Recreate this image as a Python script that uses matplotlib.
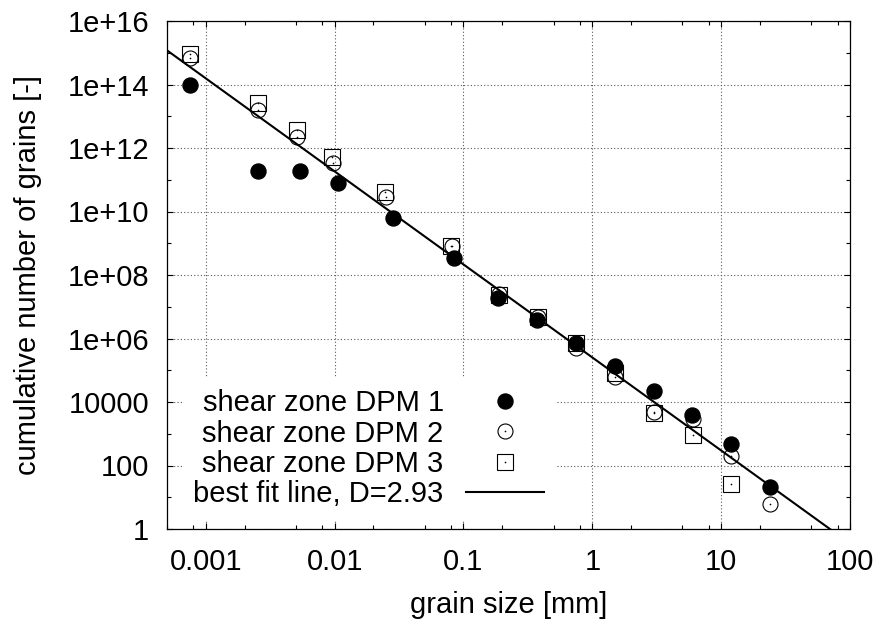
import numpy as np
import matplotlib
matplotlib.use("Agg")
import matplotlib.pyplot as plt
from matplotlib.ticker import FixedLocator, FixedFormatter, NullFormatter

plt.rcParams['font.family'] = ['Liberation Sans', 'DejaVu Sans']

# grain size [mm] and cumulative number of grains for each shear zone
size_dpm1 = [0.00075, 0.00254, 0.00536, 0.0106, 0.0286, 0.0841, 0.187, 0.372,
             0.748, 1.50, 2.99, 5.93, 11.9, 23.9]
count_dpm1 = [9.5e13, 1.9e11, 1.9e11, 7.8e10, 6.2e9, 3.4e8, 1.9e7, 3.8e6,
              7.1e5, 1.4e5, 2.3e4, 3.9e3, 470, 21]

size_dpm2 = [0.00075, 0.00252, 0.00514, 0.0098, 0.0252, 0.081, 0.19, 0.377,
             0.748, 1.50, 2.99, 6.0, 11.9, 23.9]
count_dpm2 = [6.7e14, 1.6e13, 2.3e12, 3.4e11, 2.9e10, 8.4e8, 2.5e7, 4.9e6,
              5.1e5, 6.0e4, 4.7e3, 2.9e3, 200, 6.1]

size_dpm3 = [0.00076, 0.00252, 0.00512, 0.0096, 0.0245, 0.080, 0.19, 0.377,
             0.748, 1.50, 2.99, 6.0, 12.0]
count_dpm3 = [8.9e14, 2.6e13, 3.7e12, 5.3e11, 4.2e10, 8.2e8, 2.3e7, 4.9e6,
              7.1e5, 8.0e4, 4.4e3, 910, 27]

# best fit power law N = C * d^-D
fit_D = 2.93
fit_C = 2.53e5
fit_range = [0.0005, 100]

ytick_vals = [1, 1e2, 1e4, 1e6, 1e8, 1e10, 1e12, 1e14, 1e16]
ytick_labels = ["1", "100", "10000", "1e+06", "1e+08", "1e+10", "1e+12", "1e+14", "1e+16"]
xtick_vals = [0.001, 0.01, 0.1, 1, 10, 100]
xtick_labels = ["0.001", "0.01", "0.1", "1", "10", "100"]

fs = 21

fig = plt.figure(figsize=(8.81, 6.23), dpi=100)
ax = fig.add_axes([167/881, 1-529/623, 683/881, 508/623])

ax.set_xscale("log")
ax.set_yscale("log")
ax.set_xlim(0.0005, 100)
ax.set_ylim(1, 1e16)

ms_c = 10.8
ms_s = 11.5
h1, = ax.plot(size_dpm1, count_dpm1, "o", color="black", ms=ms_c, zorder=3)
h2, = ax.plot(size_dpm2, count_dpm2, "o", mfc="none", mec="black", mew=0.8, ms=ms_c, zorder=3)
d2, = ax.plot(size_dpm2, count_dpm2, "o", color="black", ms=1.2, mew=0, zorder=3)
h3, = ax.plot(size_dpm3, count_dpm3, "s", mfc="none", mec="black", mew=0.8, ms=ms_s, zorder=3)
d3, = ax.plot(size_dpm3, count_dpm3, "o", color="black", ms=1.2, mew=0, zorder=3)

xf = np.array(fit_range)
hf, = ax.plot(xf, fit_C * xf**(-fit_D), "-", color="black", lw=1.5, zorder=4)

# ticks
ax.yaxis.set_major_locator(FixedLocator(ytick_vals))
ax.yaxis.set_major_formatter(FixedFormatter(ytick_labels))
ax.yaxis.set_minor_locator(FixedLocator([10**k for k in range(1, 16, 2)]))
ax.yaxis.set_minor_formatter(NullFormatter())
ax.xaxis.set_major_locator(FixedLocator(xtick_vals))
ax.xaxis.set_major_formatter(FixedFormatter(xtick_labels))
minor_x = [m * 10.0**k for k in range(-4, 2) for m in (2, 5, 8)]
ax.xaxis.set_minor_locator(FixedLocator(minor_x))
ax.xaxis.set_minor_formatter(NullFormatter())

ax.tick_params(which="both", direction="in", top=True, right=True, labelsize=fs, width=0.8)
ax.tick_params(which="major", length=4.5)
ax.tick_params(which="minor", length=2.8)
ax.tick_params(axis="x", which="major", pad=14)
ax.tick_params(axis="y", which="major", pad=13)
for s in ax.spines.values():
    s.set_linewidth(0.9)

ax.grid(True, which="major", color="0.35", linestyle=(0, (1, 2)), lw=0.8)
ax.set_axisbelow(True)

ax.set_xlabel("grain size [mm]", fontsize=fs, va="center")
ax.set_ylabel("cumulative number of grains [-]", fontsize=fs, va="center")
ax.xaxis.set_label_coords(0.5, (529-605)/508)
ax.yaxis.set_label_coords((28-167)/683, 0.5)

leg = ax.legend([h1, (h2, d2), (h3, d3), hf],
                ["shear zone DPM 1", "shear zone DPM 2", "shear zone DPM 3", "best fit line, D=2.93"],
                loc="lower right", bbox_to_anchor=((556-167)/683, (529-520)/508),
                markerfirst=False, fontsize=fs, frameon=True, fancybox=False,
                edgecolor="none", facecolor="white", framealpha=1,
                handlelength=2.7, handletextpad=0.75, labelspacing=0.08,
                borderpad=0.4, borderaxespad=0)

fig.savefig("out.png", dpi=100, facecolor="white")
